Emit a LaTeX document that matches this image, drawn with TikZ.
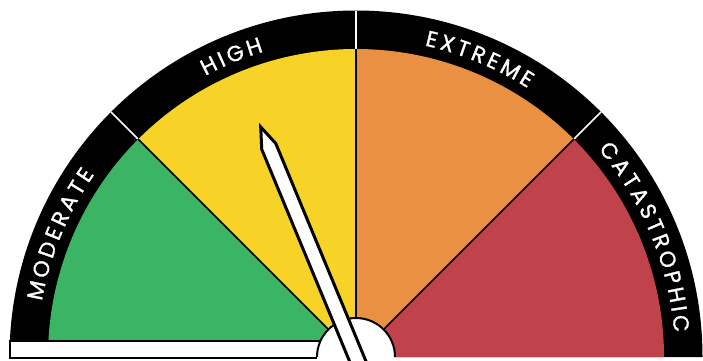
\documentclass[tikz,border=0pt]{standalone}
\usepackage{fontspec}
\usetikzlibrary{decorations.text}
\newfontfamily\lblfont[FakeBold=1.2]{Poppins}
\definecolor{gmgreen}{HTML}{3BB463}
\definecolor{gmyellow}{HTML}{F7D327}
\definecolor{gmorange}{HTML}{E99042}
\definecolor{gmred}{HTML}{C0424A}
\newcommand{\ks}{\kern3.4pt}
\newcommand{\lblfmt}{\lblfont\fontsize{22}{22}\selectfont\color{white}}
\tikzset{
  sector/.style={draw=black, line width=1.5pt},
  banddiv/.style={draw=white, line width=1.6pt},
  bandtext/.style={decorate, decoration={text along path, text align=center,
     text format delimiters={[}{]}}},
}
\begin{document}
\begin{tikzpicture}[x=1pt,y=1pt]
\useasboundingbox (0,0) rectangle (703,360);
\coordinate (C) at (356,3);
% outer black band
\fill[black] (C) ++(0:346.5) arc[start angle=0,end angle=180,radius=346.5] -- cycle;
% sectors
\fill[gmgreen]  (C) -- ++(180:308) arc[start angle=180,end angle=135,radius=308] -- cycle;
\fill[gmyellow] (C) -- ++(135:308) arc[start angle=135,end angle=90,radius=308] -- cycle;
\fill[gmorange] (C) -- ++(90:308) arc[start angle=90,end angle=45,radius=308] -- cycle;
\fill[gmred]    (C) -- ++(45:308) arc[start angle=45,end angle=0,radius=308] -- cycle;
% sector dividers
\foreach \a in {135,90,45}{
  \draw[sector] (C) -- ++(\a:308);
  \draw[banddiv] (C) ++(\a:308.5) -- ++(\a:38);
}
% band labels
\path[bandtext, decoration={text={[\lblfmt]M{\ks}O{\ks}D{\ks}E{\ks}R{\ks}A{\ks}T{\ks}E}}]
  (C) ++(180:319) arc[start angle=180,end angle=135,radius=319];
\path[bandtext, decoration={text={[\lblfmt]H{\ks}I{\ks}G{\ks}H}}]
  (C) ++(135:319) arc[start angle=135,end angle=90,radius=319];
\path[bandtext, decoration={text={[\lblfmt]E{\ks}X{\ks}T{\ks}R{\ks}E{\ks}M{\ks}E}}]
  (C) ++(90:319) arc[start angle=90,end angle=45,radius=319];
\path[bandtext, decoration={text={[\lblfmt]C{\ks}A{\ks}T{\ks}A{\ks}S{\ks}T{\ks}R{\ks}O{\ks}P{\ks}H{\ks}I{\ks}C}}]
  (C) ++(45:319) arc[start angle=45,end angle=0,radius=319];
% white bar
\draw[fill=white, line width=2pt] (10,2) rectangle (336,19.3);
% hub
\fill[white] (C) ++(-39,-5) rectangle ++(78,5);
\draw[fill=white, line width=2pt] (C) ++(180:39) arc[start angle=180,end angle=0,radius=39];
% needle
\begin{scope}[shift={(C)}, rotate=22.5]
  \draw[fill=white, line width=3pt, line join=miter]
    (-7.6,-20) -- (-7.6,228) -- (0,249) -- (7.6,228) -- (7.6,-20) -- cycle;
\end{scope}
\end{tikzpicture}
\end{document}
